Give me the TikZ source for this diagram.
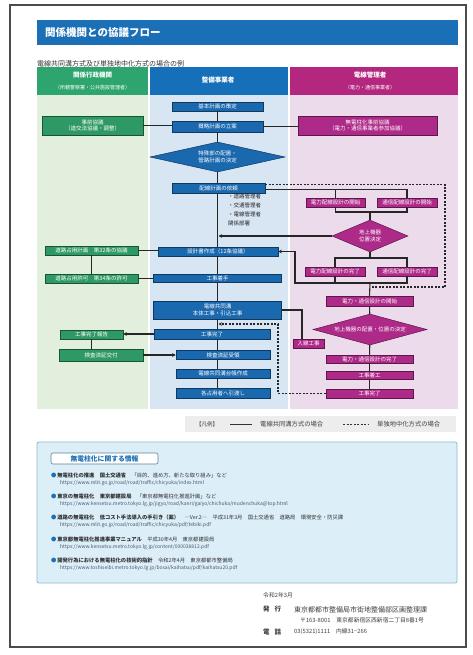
\documentclass[tikz,border=0pt]{standalone}
\usepackage{fontspec}
\setmainfont{Noto Sans CJK JP}
\usetikzlibrary{shapes.geometric,arrows.meta}
\newcommand\fsz[2]{\fontsize{#1}{#2}\selectfont}
\definecolor{titleblue}{HTML}{1B6FB6}
\definecolor{ghead}{HTML}{2EA56E}
\definecolor{gbody}{HTML}{E2EFDC}
\definecolor{gboxc}{HTML}{2F9966}
\definecolor{bhead}{HTML}{1670B9}
\definecolor{bbody}{HTML}{D8E6F3}
\definecolor{bboxc}{HTML}{1A68AE}
\definecolor{mhead}{HTML}{B4277F}
\definecolor{mbody}{HTML}{ECDCEB}
\definecolor{mboxc}{HTML}{AD2A88}
\definecolor{infofill}{HTML}{DCEEF8}
\definecolor{infoline}{HTML}{8DB9D3}
\definecolor{urlc}{HTML}{4A5A6A}
\tikzset{
 bx/.style={rectangle, inner sep=0pt, text=white, font={\fsz{5.5}{6.8}}, align=center, line width=0.5pt},
 gb/.style={bx, fill=gboxc, draw=gboxc!55!black},
 bb/.style={bx, fill=bboxc, draw=bboxc!55!black},
 mb/.style={bx, fill=mboxc, draw=mboxc!55!black},
 bd/.style={bb, shape=diamond},
 md/.style={mb, shape=diamond},
 ln/.style={draw=black!85, line width=1.1pt},
 dsh/.style={draw=black!85, line width=1.2pt, dash pattern=on 2pt off 1.5pt},
 arr/.style={-{Stealth[length=3.5pt,width=3.5pt]}},
 info/.style={anchor=west, inner sep=0pt, text=black!80, font={\fsz{5.3}{6}}},
 url/.style={anchor=west, inner sep=0pt, text=urlc, font={\fsz{5}{6}}},
 foot/.style={anchor=west, inner sep=0pt, text=black!75},
}
\begin{document}
\begin{tikzpicture}[x=1pt,y=-1pt]
\useasboundingbox (0,0) rectangle (472,655);
\fill[white] (0,0) rectangle (472,655);
\draw[black!70,line width=1.2pt] (10,5) rectangle (466,647);

% title
\fill[titleblue] (37,20) rectangle (458,45);
\node[anchor=west, inner sep=0pt, text=white, font={\bfseries\fsz{10.5}{12}}] (ttl) at (45,32.5) {関係機関との協議フロー};
\node[anchor=west, inner sep=0pt, text=black!80, font={\fsz{7}{8}}] (sub) at (37,64) {電線共同溝方式及び単独地中化方式の場合の例};

% columns
\fill[ghead] (37,67) rectangle (148,95);
\fill[bhead] (150,67) rectangle (288,95);
\fill[mhead] (290,67) rectangle (458,95);
\fill[gbody] (37,95) rectangle (148,409);
\fill[bbody] (150,95) rectangle (288,409);
\fill[mbody] (290,95) rectangle (458,409);
\node[align=center, text=white, inner sep=0pt] (hg) at (92.5,81) {{\bfseries\fsz{6.5}{8.5}関係行政機関}\\{\fsz{5}{6}（所轄警察署・公共施設管理者）}};
\node[text=white, inner sep=0pt, font={\bfseries\fsz{6.5}{8}}] (hb) at (218,80) {整備事業者};
\node[align=center, text=white, inner sep=0pt] (hm) at (370,81) {{\bfseries\fsz{6.5}{8.5}電線管理者}\\{\fsz{5}{6}（電力・通信事業者）}};

% centre column
\node[bb, minimum width=91pt, minimum height=9pt] (c1) at (217.5,106.5) {基本計画の策定};
\node[bb, minimum width=91pt, minimum height=11pt] (c2) at (217.5,126.5) {概略計画の立案};
\node[bd, aspect=4.5, minimum width=135pt, minimum height=30pt] (c3) at (217.5,157) {特殊部の配置・\\管路計画の決定};
\node[bb, minimum width=93pt, minimum height=10pt] (c4) at (218.5,188) {配線計画の依頼};
\node[anchor=north west, inner sep=0pt, align=left, text=black!85, font={\fsz{5.5}{9}}] (lst) at (228,194) {・道路管理者\\・交通管理者\\・電線管理者\\関係部署};
\node[bb, minimum width=120pt, minimum height=9pt] (c5) at (218,251.5) {設計書作成（12条協議）};
\node[bb, minimum width=128pt, minimum height=8pt] (c6) at (217.5,278.5) {工事着手};
\node[bb, minimum width=128pt, minimum height=18pt] (c7) at (217.5,310) {電線共同溝\\本体工事・引込工事};
\node[bb, minimum width=116pt, minimum height=10pt] (c8) at (212,334) {工事完了};
\node[bb, minimum width=94pt, minimum height=9pt] (c9) at (223,355) {検査済証受領};
\node[bb, minimum width=94pt, minimum height=9pt] (c10) at (223,373.5) {電線共同溝台帳作成};
\node[bb, minimum width=94pt, minimum height=10pt] (c11) at (223,393) {各占用者へ引渡し};

% left column
\node[gb, minimum width=101pt, minimum height=19pt] (L1) at (92.5,125.5) {事前協議\\（道交法協議・調整）};
\node[gb, minimum width=93pt, minimum height=9pt] (L2) at (91.5,250.5) {道路占用計画　第32条の協議};
\node[gb, minimum width=93pt, minimum height=9pt] (L3) at (91.5,278.5) {道路占用許可　第34条の許可};
\node[gb, minimum width=63pt, minimum height=9pt] (L4) at (91.5,334.5) {工事完了報告};
\node[gb, minimum width=84pt, minimum height=12pt] (L5) at (101,355) {検査済証交付};

% right column
\node[mb, minimum width=139pt, minimum height=19pt] (R1) at (367.5,125.5) {無電柱化事前協議\\（電力・通信事業者参加協議）};
\node[mb, minimum width=59pt, minimum height=9pt] (R2) at (335.5,202.5) {電力配線設計の開始};
\node[mb, minimum width=60pt, minimum height=9pt] (R3) at (407,202.5) {通信配線設計の開始};
\node[md, aspect=2.4, minimum width=76pt, minimum height=32pt] (D1) at (370,236) {地上機器\\位置決定};
\node[mb, minimum width=60pt, minimum height=9pt] (R4) at (335,271.5) {電力配線設計の完了};
\node[mb, minimum width=60pt, minimum height=9pt] (R5) at (407,271.5) {通信配線設計の完了};
\node[mb, minimum width=87pt, minimum height=10pt] (R6) at (369.5,301) {電力・通信設計の開始};
\node[md, aspect=3.7, minimum width=114pt, minimum height=31pt] (D2) at (370,329.5) {地上機器の配置・位置の決定};
\node[mb, minimum width=31pt, minimum height=9pt] (N1) at (308.5,343.5) {入線工事};
\node[mb, minimum width=87pt, minimum height=8pt] (R7) at (369.5,359) {電力・通信設計の完了};
\node[mb, minimum width=87pt, minimum height=8pt] (R8) at (369.5,375.5) {工事着工};
\node[mb, minimum width=87pt, minimum height=9pt] (R9) at (369.5,393.5) {工事完了};

% junction coordinates
\coordinate (j1) at (370,212);
\coordinate (j2) at (370,258);
\coordinate (j3) at (370,283);
\coordinate (j4) at (295,283);
\coordinate (dR) at (445,0);
\coordinate (dj) at (372,287);
\coordinate (dk) at (278,324);

% centre chain
\draw[ln] (c1) -- (c2);
\draw[ln] (c2) -- (c3);
\draw[ln] (c3.south) -- (c3.south |- c4.north);
\draw[ln] (c4.south -| c1) -- (c5.north -| c1);
\draw[ln] (c5.south -| c1) -- (c6.north -| c1);
\draw[ln] (c6.south -| c1) -- (c7.north -| c1);
\draw[ln] (c7.south -| c1) -- (c8.north -| c1);
\draw[ln] (c8.south -| c1) -- (c9.north -| c1);
\draw[ln] (c9.south -| c1) -- (c10.north -| c1);
\draw[ln] (c10.south -| c1) -- (c11.north -| c1);

% left links
\draw[ln] (L1.east) -- (L1.east -| c2.west);
\draw[ln] (L2.east) -- (L2.east -| c5.west);
\draw[ln] (L2.south) -- (L3.north);
\draw[ln] (L3.east) -- (L3.east -| c6.west);
\draw[ln,arr] (c8.west) -- (c8.west -| L4.east);
\draw[ln] (L4.south) -- (L4.south |- L5.north);
\draw[ln,arr] (L5.east) -- (L5.east -| c9.west);

% right links
\draw[ln] (c2.east) -- (c2.east -| R1.west);
\draw[ln] ([yshift=-1.5pt]c4.east) -| (R2.north);
\draw[ln] ([yshift=-1.5pt]c4.east) -| (R3.north);
\draw[dsh] ([yshift=3.5pt]c4.east) -- ([yshift=3.5pt]c4.east -| dR) |- (dj);
\draw[ln] (R2.south) |- (j1) -| (R3.south);
\draw[ln] (j1) -- (D1.north);
\draw[ln,arr] (D1.west) -- ([xshift=1pt]D1.west -| c1.center);
\draw[ln] (D1.south) -- (j2);
\draw[ln] (R4.north) |- (j2) -| (R5.north);
\draw[ln] (R4.south) -- (R4.south |- j3);
\draw[ln,arr] (R5.south) |- (j4) |- (c5.east);
\draw[ln] (j3) -- (R6.north);
\draw[ln] (R6) -- (D2);
\draw[ln] (D2) -- (R7);
\draw[ln] (R7) -- (R8);
\draw[ln] (R8) -- (R9);
\draw[ln] (c7.east) -| ([xshift=-6.5pt]N1.north);
\draw[dsh,arr] (R9.west) -| (dk) -- ([xshift=1pt]dk -| c1.center);

% legend
\fill[gray!14] (185,416) rectangle (456,432);
\node[foot, font={\fsz{5.5}{6}}] (lg0) at (196,424) {【凡例】};
\draw[black!80, line width=0.8pt] (230,424) -- (252,424);
\node[foot, font={\fsz{6.3}{7}}] (lg1) at (260,424) {電線共同溝方式の場合};
\draw[black!80, line width=0.8pt, dash pattern=on 2pt off 1.5pt] (343,424) -- (368,424);
\node[foot, font={\fsz{6.3}{7}}] (lg2) at (377,424) {単独地中化方式の場合};

% info box
\filldraw[fill=infofill, draw=infoline, line width=0.8pt, rounded corners=2pt] (37,442) rectangle (457,583);
\node[draw=infoline!70!black, fill=white, rounded corners=2pt, line width=0.6pt, minimum width=107pt, minimum height=11pt, inner sep=0pt, text=titleblue, font={\bfseries\fsz{6.8}{8}}] (tab) at (104.5,458.5) {無電柱化に関する情報};
\node[info] (i1) at (51,475) {{\color{titleblue}●}\,{\bfseries 無電柱化の推進　国土交通省}　「目的、進め方、新たな取り組み」など};
\node[url] (u1) at (60,483.5) {https://www.mlit.go.jp/road/road/traffic/chicyuka/index.html};
\node[info] (i2) at (51,496) {{\color{titleblue}●}\,{\bfseries 東京の無電柱化　東京都建設局}　「東京都無電柱化推進計画」など};
\node[url] (u2) at (60,504.5) {https://www.kensetsu.metro.tokyo.lg.jp/jigyo/road/kanri/gaiyo/chichuka/mudenchuka@top.html};
\node[info] (i3) at (51,517) {{\color{titleblue}●}\,{\bfseries 道路の無電柱化　低コスト手法導入の手引き（案）}　―Ver.2―　平成31年3月　国土交通省　道路局　環境安全・防災課};
\node[url] (u3) at (60,525.5) {https://www.mlit.go.jp/road/road/traffic/chicyuka/pdf/tebiki.pdf};
\node[info] (i4) at (51,539) {{\color{titleblue}●}\,{\bfseries 東京都無電柱化推進事業マニュアル}　平成30年4月　東京都建設局};
\node[url] (u4) at (60,547.5) {https://www.kensetsu.metro.tokyo.lg.jp/content/000038812.pdf};
\node[info] (i5) at (51,560) {{\color{titleblue}●}\,{\bfseries 開発行為における無電柱化の技術的指針}　令和2年4月　東京都都市整備局};
\node[url] (u5) at (60,568.5) {https://www.toshiseibi.metro.tokyo.lg.jp/bosai/kaihatsu/pdf/kaihatsu20.pdf};

% footer
\node[foot, font={\fsz{5.8}{7}}] (f0) at (263,595) {令和2年3月};
\node[foot, font={\bfseries\fsz{6.5}{7}}] (f1) at (263,609.5) {発\hspace{5pt}行};
\node[foot, font={\fsz{7}{8}}] (f2) at (294,609.5) {東京都都市整備局市街地整備部区画整理課};
\node[foot, font={\fsz{5.8}{7}}] (f3) at (300,620.5) {〒163-8001　東京都新宿区西新宿二丁目8番1号};
\node[foot, font={\bfseries\fsz{6.5}{7}}] (f4) at (263,632) {電\hspace{5pt}話};
\node[foot, font={\fsz{5.8}{7}}] (f5) at (294,632) {03(5321)1111　内線31−266};
\end{tikzpicture}
\end{document}
